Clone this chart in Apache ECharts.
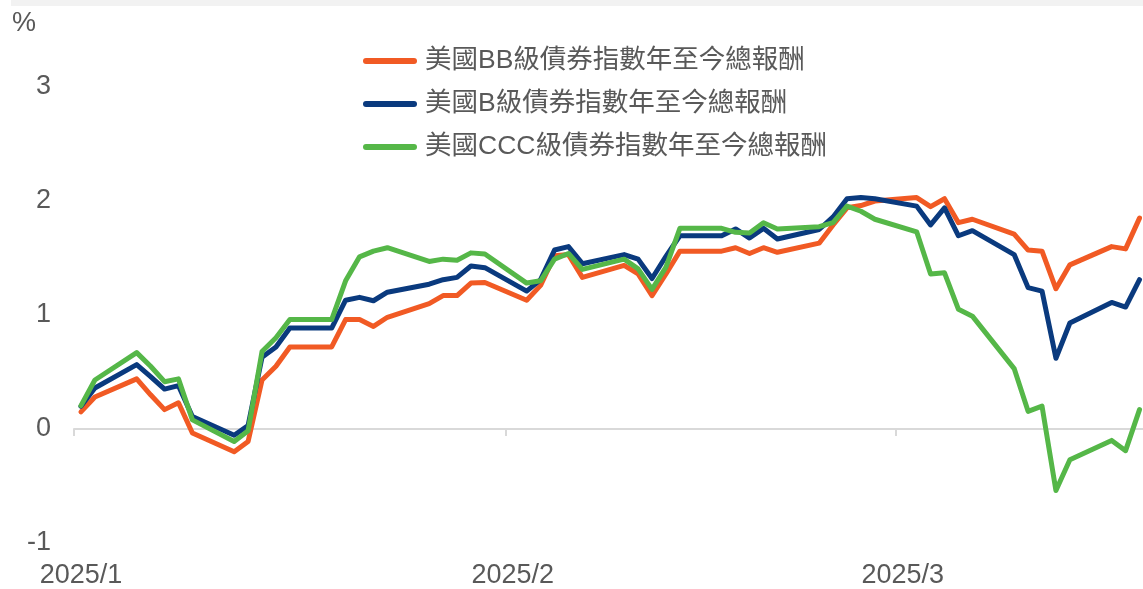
<!DOCTYPE html>
<html>
<head>
<meta charset="utf-8">
<style>
  html, body { margin: 0; padding: 0; background: #ffffff; }
  #chart { width: 1143px; height: 589px; }
</style>
<script src="https://cdn.jsdelivr.net/npm/echarts@6/dist/echarts.min.js"></script>
</head>
<body>
<div id="chart"></div>
<script>
// Trading days, 2025
const dates = [
  '2025-01-02','2025-01-03','2025-01-06','2025-01-07','2025-01-08','2025-01-09','2025-01-10',
  '2025-01-13','2025-01-14','2025-01-15','2025-01-16','2025-01-17','2025-01-20','2025-01-21',
  '2025-01-22','2025-01-23','2025-01-24','2025-01-27','2025-01-28','2025-01-29','2025-01-30',
  '2025-01-31','2025-02-03','2025-02-04','2025-02-05','2025-02-06','2025-02-07','2025-02-10',
  '2025-02-11','2025-02-12','2025-02-13','2025-02-14','2025-02-17','2025-02-18','2025-02-19',
  '2025-02-20','2025-02-21','2025-02-24','2025-02-25','2025-02-26','2025-02-27','2025-02-28',
  '2025-03-03','2025-03-04','2025-03-05','2025-03-06','2025-03-07','2025-03-10','2025-03-11',
  '2025-03-12','2025-03-13','2025-03-14','2025-03-17','2025-03-18','2025-03-19'
];

// Year-to-date total return, %
const bbReturn = [
  0.15, 0.28, 0.44, 0.30, 0.17, 0.23, -0.035, -0.20, -0.11, 0.43, 0.55, 0.72, 0.72, 0.96,
  0.96, 0.90, 0.98, 1.10, 1.17, 1.17, 1.28, 1.285,
  1.13, 1.26, 1.52, 1.53, 1.33, 1.435, 1.36, 1.17, 1.36, 1.56, 1.56, 1.59, 1.54, 1.59,
  1.55, 1.63, 1.79, 1.94, 1.96, 2.00,
  2.03, 1.95, 2.02, 1.81, 1.84, 1.71, 1.57, 1.56, 1.23, 1.44, 1.60, 1.58, 1.85
];
const bReturn = [
  0.20, 0.36, 0.565, 0.46, 0.35, 0.38, 0.11, -0.055, 0.03, 0.63, 0.72, 0.885, 0.885, 1.13,
  1.155, 1.125, 1.20, 1.27, 1.31, 1.33, 1.43, 1.415,
  1.21, 1.31, 1.57, 1.60, 1.45, 1.53, 1.49, 1.32, 1.515, 1.695, 1.695, 1.755, 1.675, 1.76,
  1.667, 1.75, 1.86, 2.02, 2.03, 2.02,
  1.955, 1.79, 1.94, 1.695, 1.74, 1.53, 1.24, 1.21, 0.62, 0.93, 1.11, 1.07, 1.31
];
const cccReturn = [
  0.205, 0.43, 0.67, 0.55, 0.415, 0.44, 0.08, -0.11, -0.015, 0.68, 0.80, 0.96, 0.96, 1.30,
  1.51, 1.56, 1.59, 1.47, 1.49, 1.48, 1.545, 1.535,
  1.28, 1.30, 1.49, 1.54, 1.40, 1.49, 1.405, 1.225, 1.42, 1.76, 1.76, 1.725, 1.72, 1.81,
  1.755, 1.775, 1.81, 1.955, 1.91, 1.84,
  1.73, 1.36, 1.37, 1.05, 0.99, 0.53, 0.155, 0.20, -0.54, -0.27, -0.10, -0.19, 0.17
];

const seriesNames = ['美國BB級債券指數年至今總報酬', '美國B級債券指數年至今總報酬', '美國CCC級債券指數年至今總報酬'];
const seriesColors = ['#F15A24', '#0A3A7E', '#55B748'];
const yTicks = [-1, 0, 1, 2, 3];
const monthLabelDates = ['2025-01-02', '2025-02-02', '2025-03-02'];

const DAY = 86400000;
const toTime = s => { const [y, m, d] = s.split('-').map(Number); return new Date(y, m - 1, d).getTime(); };

// each day occupies a slot; month ticks sit on slot edges, labels on slot centres
const labelTimes = monthLabelDates.map(toTime);
const tickTimes = labelTimes.map(t => t - DAY / 2);
const xMin = toTime(dates[0]) - DAY / 2;
const xMax = toTime(dates[dates.length - 1]) + DAY / 4;

const font = "'Liberation Sans', Arial, 'Noto Sans CJK TC', sans-serif";
const textColor = '#595959';

const pill = 'path://M3,0 L51,0 A3,3 0 0 1 51,6 L3,6 A3,3 0 0 1 3,0 Z';

const series = [bbReturn, bReturn, cccReturn].map((vals, i) => ({
  name: seriesNames[i],
  type: 'line',
  xAxisIndex: 0,
  showSymbol: false,
  symbol: 'none',
  data: dates.map((d, k) => [toTime(d), vals[k]]),
  lineStyle: { width: 5, color: seriesColors[i], join: 'round', cap: 'round' },
  itemStyle: { color: seriesColors[i] },
  emphasis: { disabled: true }
}));

const chart = echarts.init(document.getElementById('chart'), null, { renderer: 'canvas' });
chart.setOption({
  animation: false,
  backgroundColor: '#ffffff',
  grid: { left: 74, right: 0, top: 87, bottom: 43, containLabel: false },
  graphic: [
    { type: 'rect', left: 11, top: 0, shape: { width: 1132, height: 6 }, style: { fill: '#f2f2f2' }, silent: true },
    { type: 'text', left: 12, top: 10, style: { text: '%', font: `27px ${font}`, fill: textColor } }
  ],
  legend: {
    orient: 'vertical',
    left: 358,
    top: 41,
    itemWidth: 54,
    itemHeight: 6,
    itemGap: 13,
    icon: pill,
    selectedMode: false,
    textStyle: { fontFamily: font, fontSize: 26.5, color: textColor, lineHeight: 30, padding: [0, 0, 0, 3] },
    data: seriesNames.map((n, i) => ({ name: n, itemStyle: { color: seriesColors[i] } }))
  },
  xAxis: [
    {
      type: 'value',
      min: xMin,
      max: xMax,
      axisLine: { onZero: true, lineStyle: { color: '#d9d9d9', width: 2 } },
      axisTick: { show: true, customValues: tickTimes, length: 7, lineStyle: { color: '#d9d9d9', width: 2 } },
      axisLabel: { show: false },
      splitLine: { show: false }
    },
    {
      type: 'value',
      position: 'bottom',
      min: xMin,
      max: xMax,
      axisLine: { show: false, onZero: false },
      axisTick: { show: false },
      splitLine: { show: false },
      axisLabel: {
        customValues: labelTimes,
        margin: 19,
        fontFamily: font,
        fontSize: 27,
        color: textColor,
        formatter: v => { const d = new Date(v); return d.getFullYear() + '/' + (d.getMonth() + 1); }
      }
    }
  ],
  yAxis: {
    type: 'value',
    min: yTicks[0],
    max: yTicks[yTicks.length - 1],
    interval: 1,
    axisLine: { show: false },
    axisTick: { show: false },
    splitLine: { show: false },
    axisLabel: { margin: 23, fontFamily: font, fontSize: 27, color: textColor, padding: [4, 0, 0, 0] }
  },
  series: series
});
</script>
</body>
</html>
